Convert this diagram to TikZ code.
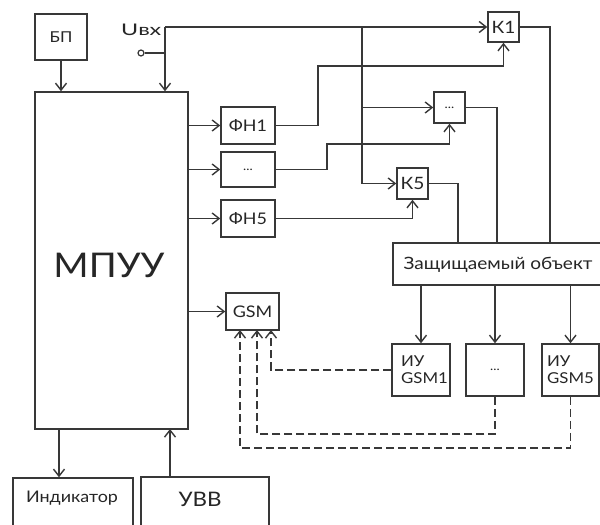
\documentclass[tikz,border=0pt]{standalone}
\usepackage{fontspec}
\setmainfont{Lato}[FakeStretch=1.12]
\usetikzlibrary{arrows.meta}
\definecolor{ln}{HTML}{383838}
\definecolor{tx}{HTML}{262626}
\tikzset{
  box/.style={draw=ln, line width=1.5pt, rectangle, inner sep=0pt, text=tx, align=center},
  wire/.style={draw=ln, line width=1.5pt},
  arr/.style={wire, -{Straight Barb[length=7pt,width=11pt,line width=1.4pt]}},
  darr/.style={arr, dash pattern=on 8pt off 4pt},
  fs/.style={font=\fontsize{#1}{#1}\selectfont}
}
\begin{document}
\begin{tikzpicture}[x=1pt,y=-1pt]
\clip (0,0) rectangle (600,525);
\fill[white] (0,0) rectangle (600,525);
% boxes
\node[box, fs=15, minimum width=52pt, minimum height=46pt] (bp) at (61,37) {БП};
\node[box, minimum width=153pt, minimum height=337pt] (mpuu) at (111.5,260.5) {};
\node[fs=34, text=tx] (mpuutxt) at (109,265) {МПУУ};
\node[box, fs=16, minimum width=54pt, minimum height=37pt] (fn1) at (248,125.5) {ФН1};
\node[box, fs=12, minimum width=54pt, minimum height=35pt] (fnd) at (248,169.5) {...};
\node[box, fs=16, minimum width=54pt, minimum height=37pt] (fn5) at (248,218.5) {ФН5};
\node[box, fs=17, minimum width=31pt, minimum height=30pt] (k1) at (503.5,27) {К1};
\node[box, fs=12, minimum width=31pt, minimum height=31pt] (kd) at (449.5,107.5) {...};
\node[box, fs=17, minimum width=31pt, minimum height=31pt] (k5) at (412.5,183.5) {К5};
\node[box, minimum width=212pt, minimum height=42pt] (obj) at (499,264) {};
\node[fs=17, text=tx] (objtxt) at (498,265) {Защищаемый объект};
\node[box, fs=16, minimum width=53pt, minimum height=37pt] (gsm) at (252.5,311.5) {GSM};
\node[box, minimum width=58pt, minimum height=52pt] (iu1) at (421,370) {};
\node[fs=15, text=tx, align=left, inner sep=0pt] (iu1txt) at (424.5,370) {ИУ\\[2pt]GSM1};
\node[box, fs=12, minimum width=58pt, minimum height=52pt] (iud) at (495,370) {...};
\node[box, minimum width=57pt, minimum height=52pt] (iu5) at (570.5,370) {};
\node[fs=15, text=tx, align=left, inner sep=0pt] (iu5txt) at (570.5,370) {ИУ\\[2pt]GSM5};
\node[box, minimum width=120pt, minimum height=52pt] (ind) at (73,504) {};
\node[fs=16, text=tx] (indtxt) at (72,498) {Индикатор};
\node[box, minimum width=128pt, minimum height=53pt] (uvv) at (205,503.5) {};
\node[fs=20, text=tx] (uvvtxt) at (200,499) {УВВ};
% input
\node[fs=16, text=tx, anchor=base west, inner sep=0pt] (uin) at (121,35) {\scalebox{1.3}[1]{Uвх}};
\node[circle, draw=ln, line width=1.2pt, minimum size=6pt, inner sep=0pt] (term) at (141,53) {};
\coordinate (j0) at (165,53);
\coordinate (top) at (165,27);
\coordinate (bus) at (362,27);
\coordinate (indsrc) at (59,429);
\coordinate (uvvdst) at (170,429);
\draw[wire] (term) -- (j0);
\draw[arr] (top) -- (top |- mpuu.north);
\draw[arr] (top) -- (k1.west);
\draw[wire] (bus) -- (362,183.5);
\draw[arr] (362,183.5) -- (k5.west);
\draw[arr] (362,107.5) -- (kd.west);
\draw[arr] (bp.south) -- (bp.south |- mpuu.north);
% MPUU outputs
\draw[arr] (mpuu.east |- fn1.west) -- (fn1.west);
\draw[arr] (mpuu.east |- fnd.west) -- (fnd.west);
\draw[arr] (mpuu.east |- fn5.west) -- (fn5.west);
\draw[arr] (mpuu.east |- gsm.west) -- (gsm.west);
% FN outputs
\draw[arr] (fn1.east) -- (318,125.5) -- (318,66) -- (503.5,66) -- (k1.south);
\draw[arr] (fnd.east) -- (327,169.5) -- (327,144) -- (449.5,144) -- (kd.south);
\draw[arr] (fn5.east) -- (k5.south |- fn5.east) -- (k5.south);
% K outputs to object
\draw[wire] (k1.east) -- (550,27) -- (550,243);
\draw[wire] (kd.east) -- (497,107.5) -- (497,243);
\draw[wire] (k5.east) -- (458,183.5) -- (458,243);
% object to IU
\draw[arr] (iu1.north |- obj.south) -- (iu1.north);
\draw[arr] (iud.north |- obj.south) -- (iud.north);
\draw[arr] (iu5.north |- obj.south) -- (iu5.north);
% dashed returns
\draw[darr] (iu1.west) -- (271,370) -- (271,330);
\draw[darr] (iud.south) -- (495,434) -- (257,434) -- (257,330);
\draw[darr] (iu5.south) -- (570.5,448) -- (240,448) -- (240,330);
% bottom
\draw[arr] (indsrc) -- (indsrc |- ind.north);
\draw[arr] (uvvdst |- uvv.north) -- (uvvdst);
\end{tikzpicture}
\end{document}
